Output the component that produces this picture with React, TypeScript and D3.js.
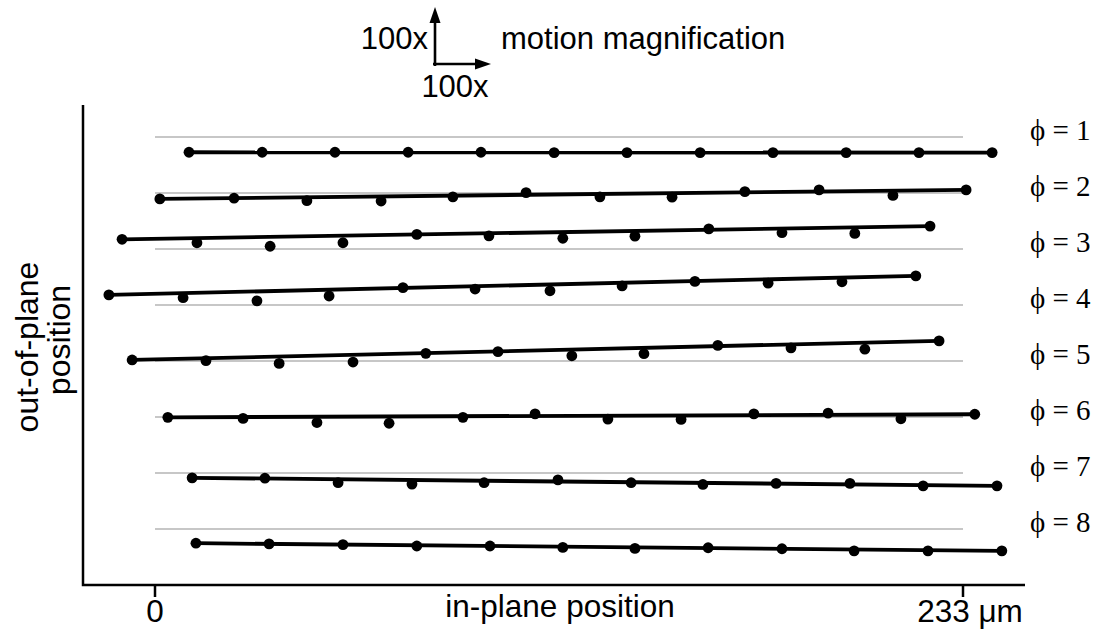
import * as d3 from "d3";

// rows of the plot: phase index
const phases = [1, 2, 3, 4, 5, 6, 7, 8];

// in-plane position of each tracked point (um, magnified motion included)
const xPhi1 = [9.8, 30.9, 51.9, 73.0, 94.0, 115.1, 136.1, 157.2, 178.2, 199.3, 220.3, 241.4];
const xPhi2 = [1.4, 22.8, 43.8, 65.2, 85.9, 107.0, 128.3, 149.1, 170.1, 191.5, 212.8, 233.9];
const xPhi3 = [-9.5, 12.1, 33.2, 54.2, 75.5, 96.3, 117.6, 138.4, 159.7, 180.8, 201.8, 223.5];
const xPhi4 = [-13.3, 8.1, 29.4, 50.2, 71.5, 92.3, 113.9, 134.7, 155.7, 176.8, 198.1, 219.4];
const xPhi5 = [-6.6, 14.7, 35.8, 57.1, 78.1, 98.9, 120.2, 141.0, 162.3, 183.4, 204.7, 226.1];
const xPhi6 = [3.7, 25.4, 46.7, 67.5, 88.8, 109.6, 130.6, 151.7, 172.7, 194.1, 215.1, 236.4];
const xPhi7 = [10.7, 31.7, 52.8, 74.1, 94.9, 116.2, 137.3, 158.0, 179.1, 200.4, 221.5, 242.8];
const xPhi8 = [11.8, 32.9, 54.2, 75.5, 96.6, 117.6, 138.4, 159.5, 180.8, 201.6, 222.9, 244.2];

// out-of-plane displacement from the rest line (um, same magnification)
const zPhi1 = [-4.4, -4.4, -4.4, -4.4, -4.4, -4.5, -4.5, -4.5, -4.5, -4.5, -4.5, -4.5];
const zPhi2 = [-1.7, -1.5, -2.2, -2.3, -1.1, 0.1, -1.1, -1.2, 0.4, 0.9, -0.7, 0.9];
const zPhi3 = [2.8, 1.8, 0.8, 1.8, 4.2, 3.8, 3.1, 3.7, 5.8, 4.7, 4.5, 6.6];
const zPhi4 = [2.9, 2.1, 1.2, 2.6, 5.0, 4.6, 4.1, 5.5, 6.8, 6.3, 6.7, 8.4];
const zPhi5 = [0.3, 0.1, -0.7, -0.3, 2.2, 2.7, 1.5, 2.1, 4.5, 3.8, 3.4, 5.8];
const zPhi6 = [-0.1, -0.4, -1.6, -1.8, -0.1, 0.9, -0.6, -0.7, 0.9, 1.1, -0.5, 0.8];
const zPhi7 = [-1.4, -1.5, -2.8, -3.2, -2.8, -2.0, -2.8, -3.3, -3.0, -3.0, -3.7, -3.7];
const zPhi8 = [-4.1, -4.3, -4.5, -4.9, -4.9, -5.3, -5.6, -5.4, -5.7, -6.3, -6.3, -6.3];

const xTicks = [0, 233];

const W = 1106, H = 633;
const sans = "'Liberation Sans', Arial, Helvetica, sans-serif";
const serif = "'Liberation Serif', 'Times New Roman', serif";

export default function App() {
    const xs = [xPhi1, xPhi2, xPhi3, xPhi4, xPhi5, xPhi6, xPhi7, xPhi8];
    const zs = [zPhi1, zPhi2, zPhi3, zPhi4, zPhi5, zPhi6, zPhi7, zPhi8];

    const x = d3.scaleLinear().domain([0, 233]).range([155, 963]);
    const row = d3.scalePoint<number>().domain(phases).range([137, 529]);
    const k = (x(1) - x(0));
    // same pixels per um vertically, upward positive
    const z = d3.scaleLinear().domain([-10, 10]).range([10 * k, -10 * k]);

    const axisLeft = 83, axisBottom = 585;

    const rows = phases.map((p, i) => ({
        phi: p,
        pts: xs[i].map((v, j) => [x(v), row(p)! + z(zs[i][j])] as [number, number]),
    }));

    const line = d3.line();

    return (
        <svg width={W} height={H} style={{ position: "absolute", left: 0, top: 0, background: "#fff" }}>
            {/* magnification key */}
            <g stroke="#000" strokeWidth={2.6} fill="none">
                <line x1={435} y1={66} x2={435} y2={20} />
                <line x1={433} y1={64} x2={478} y2={64} />
            </g>
            <g fill="#000">
                <path d="M435,7 L429.5,23 L440.5,23 Z" />
                <path d="M491,64 L475,58.5 L475,69.5 Z" />
            </g>
            <g fontFamily={sans} fontSize={31} fill="#000">
                <text x={428} y={49} textAnchor="end">100x</text>
                <text x={455} y={97} textAnchor="middle">100x</text>
                <text x={501} y={49}>motion magnification</text>
            </g>

            {/* axes */}
            <g stroke="#000" strokeWidth={2.5} fill="none">
                <path d={`M${axisLeft},105 V${axisBottom} H1025`} />
                {xTicks.map(t => (
                    <line key={t} x1={x(t)} x2={x(t)} y1={axisBottom} y2={597} />
                ))}
            </g>
            <g fontFamily={sans} fontSize={31.5} fill="#000">
                <text x={x(0)} y={622} textAnchor="middle">0</text>
                <text x={x(233) + 7} y={622} textAnchor="middle">233 μm</text>
                <text x={560} y={617} textAnchor="middle">in-plane position</text>
            </g>
            <g fontFamily={sans} fontSize={32} fill="#000" textAnchor="middle">
                <text transform="translate(38,347) rotate(-90)">out-of-plane</text>
                <text transform="translate(70,340) rotate(-90)">position</text>
            </g>

            {/* rest lines */}
            <g stroke="#8f8f8f" strokeWidth={1.1}>
                {phases.map(p => (
                    <line key={p} x1={x(0)} x2={x(233)} y1={row(p)} y2={row(p)} />
                ))}
            </g>

            {/* measured points and fitted lines */}
            {rows.map(r => (
                <g key={r.phi}>
                    <path d={line([r.pts[0], r.pts[r.pts.length - 1]]) || ""} stroke="#000" strokeWidth={3.8} fill="none" />
                    {r.pts.map((pt, j) => (
                        <circle key={j} cx={pt[0]} cy={pt[1]} r={5.4} fill="#000" />
                    ))}
                </g>
            ))}

            {/* phase labels */}
            <g fontFamily={serif} fontSize={29} fill="#000">
                {phases.map(p => (
                    <text key={p} x={1030} y={row(p)! + 3}>{`\u03D5 = ${p}`}</text>
                ))}
            </g>
        </svg>
    );
}
